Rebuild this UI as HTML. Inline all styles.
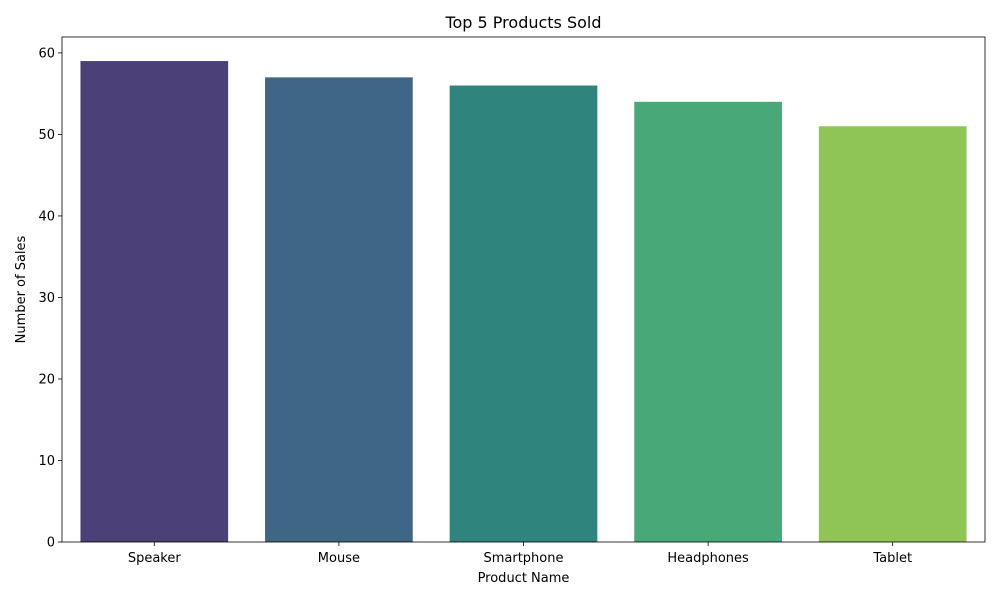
<!DOCTYPE html>
<html><head><meta charset="utf-8"><style>
body{margin:0;background:#fff;font-family:"Liberation Sans","DejaVu Sans",sans-serif;}
svg text{font-family:"DejaVu Sans","Liberation Sans",sans-serif;}
</style></head><body>
<svg id="chart" width="1000" height="600" xmlns="http://www.w3.org/2000/svg">
<rect width="1000" height="600" fill="#fff"/>
<text x="523.5" y="28" text-anchor="middle" font-size="16" fill="#000">Top 5 Products Sold</text>
<g id="bars"></g>
<g id="axes"></g>
<text x="523.5" y="582" text-anchor="middle" font-size="13">Product Name</text>
<text transform="translate(25,289.5) rotate(-90)" text-anchor="middle" font-size="13">Number of Sales</text>
</svg>
<script>
const categories = ["Speaker","Mouse","Smartphone","Headphones","Tablet"];
const values = [59,57,56,54,51];
const colors = ["#4c4079","#3d6784","#2f847e","#48a878","#8fc457"];
const yTicks = [0,10,20,30,40,50,60];

const L=62,R=985,T=37,B=542;
const yMax=Math.max(...values)*1.05;
const y=v=>B-(v/yMax)*(B-T);
const band=(R-L)/categories.length;
const x=i=>L+band*i+band*0.1;
const NS="http://www.w3.org/2000/svg";
const bars=document.getElementById('bars'), axes=document.getElementById('axes');
function mk(tag,attrs,parent){const e=document.createElementNS(NS,tag);for(const k in attrs)e.setAttribute(k,attrs[k]);parent.appendChild(e);return e;}
categories.forEach((c,i)=>{
  const r=mk('rect',{x:x(i),y:y(values[i]),width:band*0.8,height:B-y(values[i]),fill:colors[i]},bars);
  
  
  const cx=L+band*(i+0.5);
  mk('line',{x1:cx,x2:cx,y1:B,y2:B+4,stroke:'#000','stroke-width':0.8},axes);
  const t=mk('text',{x:cx,y:B+20,'text-anchor':'middle','font-size':13},axes);
  t.textContent=c;
  
  
});
yTicks.forEach(v=>{
  const yy=y(v);
  mk('line',{x1:L-4,x2:L,y1:yy,y2:yy,stroke:'#000','stroke-width':0.8},axes);
  const t=mk('text',{x:L-7,y:yy+4.5,'text-anchor':'end','font-size':13},axes);
  t.textContent=v;
  
  
});
const f=mk('rect',{x:L,y:T,width:R-L,height:B-T,fill:'none',stroke:'#000','stroke-width':0.8},axes);


</script>
</body></html>
